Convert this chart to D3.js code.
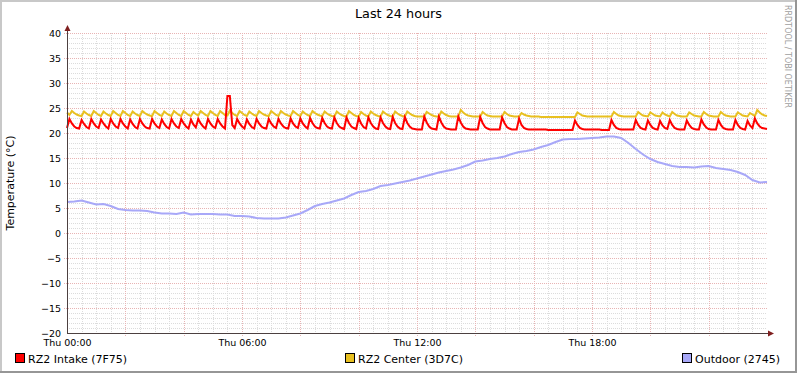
<!DOCTYPE html>
<html>
<head>
<meta charset="utf-8">
<script src="https://cdn.jsdelivr.net/npm/d3@7"></script>
<style>
  body { margin: 0; background: #fff; }
  svg { display: block; font-family: "DejaVu Sans", sans-serif; }
</style>
</head>
<body>
<div id="chart"></div>
<script>
// values
var title = "Last 24 hours";
var yLabel = "Temperature (°C)";
var watermark = "RRDTOOL / TOBI OETIKER";
var seriesNames = ["RZ2 Intake (7F75)", "RZ2 Center (3D7C)", "Outdoor (2745)"];
var seriesColors = ["#ff0000", "#e8c020", "#a8a8f8"];
var yTicks = [-20, -15, -10, -5, 0, 5, 10, 15, 20, 25, 30, 35, 40];
var xTickHours = [0, 6, 12, 18];

// 5 minute samples from Thu 00:00
var intake = [21.0,
  22.8, 21.9, 21.3, 21.0, 20.9,
  22.6, 21.8, 21.2, 20.9,
  22.8, 21.9, 21.3, 21.0,
  22.7, 21.9, 21.3, 20.9,
  22.8, 21.9, 21.3, 21.0,
  22.8, 21.9, 21.3, 20.9,
  22.7, 21.8, 21.2, 20.9,
  22.8, 21.9, 21.3, 21.0, 20.9,
  22.8, 21.9, 21.3, 21.0,
  22.7, 21.8, 21.2, 20.9,
  22.8, 21.9, 21.3, 21.0,
  22.8, 21.9, 21.3, 20.9,
  22.7, 21.7, 21.1,
  22.8, 21.9, 21.3, 20.9,
  22.8, 21.9, 21.3, 21.0,
  22.8, 21.9, 21.3, 20.9,
  27.4, 27.4, 21.6, 21.0,
  22.8, 21.9, 21.3, 20.9,
  22.7, 21.8, 21.2, 20.9,
  22.8, 21.9, 21.3, 21.0, 20.9,
  22.8, 21.9, 21.3, 21.0,
  22.8, 21.9, 21.3, 21.0, 20.9,
  22.9, 21.9, 21.3, 21.0,
  22.9, 21.9, 21.3, 20.9,
  23.0, 22.0, 21.3, 21.0, 20.9,
  23.0, 22.0, 21.3, 21.0, 20.9,
  23.1, 22.0, 21.3, 21.0, 20.8,
  23.1, 22.0, 21.3, 21.0, 20.8,
  23.0, 21.9, 21.2, 20.9,
  23.1, 22.0, 21.3, 20.9, 20.8,
  23.1, 22.0, 21.3, 20.9, 20.8,
  23.2, 22.0, 21.3, 20.9, 20.8,
  23.2, 22.0, 21.3, 20.9, 20.8, 20.7, 20.7, 20.7,
  23.3, 22.1, 21.3, 20.9, 20.8, 20.7,
  23.3, 22.1, 21.3, 20.9, 20.8, 20.7, 20.7, 20.7,
  23.3, 22.1, 21.3, 20.9, 20.8, 20.7, 20.7, 20.7, 20.7,
  23.2, 22.0, 21.2, 20.9, 20.7, 20.7, 20.7, 20.7, 20.7,
  23.1, 22.0, 21.2, 20.9, 20.7, 20.7, 20.7,
  22.9, 21.6, 21.0, 20.8, 20.7, 20.7, 20.7, 20.7, 20.7, 20.7, 20.7, 20.7,
  20.6, 20.6, 20.6, 20.6, 20.6, 20.6, 20.6, 20.6, 20.6, 20.6, 20.6,
  22.5, 21.6, 21.0, 20.8, 20.7, 20.7, 20.7, 20.7, 20.7, 20.7, 20.7, 20.6, 20.6, 20.6, 20.6,
  22.6, 21.6, 21.0, 20.8, 20.7, 20.7, 20.7, 20.7, 20.7, 20.7,
  22.6, 21.6, 21.0, 20.8, 20.7,
  22.5, 21.6, 21.0, 20.8, 20.7,
  22.4, 21.5, 21.0, 20.8,
  22.6, 21.6, 21.0, 20.8, 20.7, 20.7, 20.7,
  22.5, 21.6, 21.0, 20.8, 20.7, 20.7,
  22.7, 21.7, 21.1, 20.8, 20.7, 20.7, 20.7,
  22.6, 21.6, 21.0, 20.8, 20.7, 20.7, 20.7,
  22.6, 21.6, 21.0, 20.8, 20.7,
  22.4, 21.5, 21.0,
  22.9, 21.9, 21.3, 21.0, 20.9, 20.8];

var center = [24.1,
  23.6, 24.4, 24.0, 23.7, 23.5,
  23.4, 24.3, 23.9, 23.6,
  23.4, 24.4, 24.0, 23.6,
  23.4, 24.3, 23.9, 23.6,
  23.4, 24.4, 24.0, 23.6,
  23.4, 24.4, 24.0, 23.6,
  23.4, 24.3, 23.9, 23.6,
  23.4, 24.4, 24.0, 23.7, 23.5,
  23.4, 24.4, 24.0, 23.6,
  23.4, 24.3, 23.9, 23.6,
  23.4, 24.4, 24.0, 23.6,
  23.4, 24.4, 24.0, 23.6,
  23.4, 24.2, 23.8,
  23.5, 24.4, 24.0, 23.6,
  23.4, 24.4, 24.0, 23.6,
  23.4, 24.4, 24.0, 23.6,
  23.5, 24.5, 24.0, 23.6,
  23.4, 24.4, 24.0, 23.6,
  23.4, 24.3, 23.9, 23.6,
  23.4, 24.4, 24.0, 23.7, 23.5,
  23.4, 24.4, 24.0, 23.6,
  23.4, 24.4, 24.0, 23.7, 23.5,
  23.4, 24.4, 24.0, 23.6,
  23.4, 24.3, 23.9, 23.6,
  23.4, 24.4, 24.0, 23.7, 23.5,
  23.4, 24.3, 23.9, 23.6, 23.4,
  23.3, 24.3, 23.9, 23.6, 23.4,
  23.3, 24.4, 24.0, 23.6, 23.4,
  23.3, 24.2, 23.8, 23.5,
  23.3, 24.3, 23.9, 23.6, 23.4,
  23.3, 24.3, 23.9, 23.6, 23.4,
  23.3, 24.3, 23.9, 23.6, 23.4,
  23.3, 24.3, 23.9, 23.6, 23.4, 23.3, 23.3, 23.3,
  23.3, 24.2, 23.9, 23.6, 23.4, 23.3,
  23.3, 24.3, 23.9, 23.6, 23.4, 23.3, 23.3, 23.3,
  23.3, 24.6, 24.1, 23.7, 23.5, 23.4, 23.3, 23.3, 23.3,
  23.3, 24.2, 23.8, 23.5, 23.4, 23.3, 23.3, 23.3, 23.3,
  23.3, 24.2, 23.8, 23.5, 23.4, 23.3, 23.3,
  23.3, 24.0, 23.7, 23.5, 23.4, 23.3, 23.3, 23.3, 23.3,
  23.2, 23.2, 23.2, 23.2, 23.2, 23.2, 23.2, 23.2, 23.2, 23.2, 23.2, 23.2, 23.2, 23.2,
  23.2, 24.1, 23.8, 23.5, 23.4, 23.3, 23.3, 23.3, 23.3, 23.3, 23.3, 23.3, 23.3, 23.3, 23.3,
  23.3, 24.2, 23.8, 23.5, 23.4, 23.3, 23.3, 23.3, 23.3, 23.3,
  23.3, 24.2, 23.8, 23.5, 23.4,
  23.3, 24.1, 23.8, 23.5, 23.4,
  23.3, 24.1, 23.7, 23.5,
  23.3, 24.2, 23.8, 23.5, 23.4, 23.3, 23.3,
  23.3, 24.1, 23.8, 23.5, 23.4, 23.3,
  23.3, 24.2, 23.8, 23.5, 23.4, 23.3, 23.3,
  23.3, 24.2, 23.8, 23.5, 23.4, 23.3, 23.3,
  23.3, 24.1, 23.8, 23.5, 23.4,
  23.3, 24.0, 23.7,
  23.4, 24.6, 24.1, 23.7, 23.5, 23.4];

// 15 minute samples from Thu 00:00
var outdoor = [6.2, 6.3, 6.5, 6.1, 5.7, 5.8, 5.4, 4.8, 4.6, 4.5,
  4.5, 4.4, 4.1, 3.9, 3.9, 3.8, 4.1, 3.7, 3.8, 3.8,
  3.8, 3.7, 3.7, 3.4, 3.4, 3.3, 3.0, 2.9, 2.9, 2.9,
  3.1, 3.5, 3.9, 4.6, 5.4, 5.8, 6.1, 6.5, 6.9, 7.6,
  8.2, 8.4, 8.8, 9.4, 9.6, 9.9, 10.2, 10.5, 10.9, 11.3,
  11.7, 12.1, 12.4, 12.7, 13.1, 13.6, 14.3, 14.5, 14.8, 15.0,
  15.3, 15.8, 16.2, 16.4, 16.7, 17.2, 17.6, 18.2, 18.7, 18.8,
  18.8, 18.9, 19.0, 19.1, 19.3, 19.3, 19.0, 18.0, 16.8, 15.7,
  14.8, 14.2, 13.8, 13.4, 13.2, 13.2, 13.1, 13.3, 13.4, 13.0,
  12.8, 12.6, 12.2, 11.6, 10.6, 10.1, 10.2];

var W = 797, H = 373;
var t0 = new Date(2010, 0, 7, 0, 0), t1 = new Date(2010, 0, 8, 0, 0);

var x = d3.scaleTime().domain([t0, t1]).range([67, 767]);
var y = d3.scaleLinear().domain([-20, 40]).range([333, 33]);

var svg = d3.select("#chart").append("svg")
    .attr("width", W)
    .attr("height", H);

svg.append("rect").attr("width", W).attr("height", H).attr("fill", "#fff");

// frame shading
svg.append("rect").attr("x", 0).attr("y", 0).attr("width", W).attr("height", 2).attr("fill", "#c8c8c8");
svg.append("rect").attr("x", 0).attr("y", 0).attr("width", 2).attr("height", H).attr("fill", "#c8c8c8");
svg.append("rect").attr("x", 0).attr("y", H - 2).attr("width", W).attr("height", 2).attr("fill", "#969696");
svg.append("rect").attr("x", W - 2).attr("y", 0).attr("width", 2).attr("height", H).attr("fill", "#969696");

var grid = svg.append("g").attr("shape-rendering", "crispEdges");

// minor grid
var minorX = d3.timeMinute.every(30).range(t0, t1).filter(function(d) {
  return (d.getHours() * 60 + d.getMinutes()) % 120 != 0;
});
grid.selectAll(".vminor").data(minorX).enter().append("line")
    .attr("x1", function(d) { return Math.round(x(d)) + 0.5; })
    .attr("x2", function(d) { return Math.round(x(d)) + 0.5; })
    .attr("y1", 33).attr("y2", 333)
    .attr("stroke", "#dcdcdc").attr("stroke-dasharray", "1,1");

var minorY = d3.range(-19, 41).filter(function(d) { return d % 5 != 0; });
grid.selectAll(".hminor").data(minorY).enter().append("line")
    .attr("y1", function(d) { return Math.round(y(d)) + 0.5; })
    .attr("y2", function(d) { return Math.round(y(d)) + 0.5; })
    .attr("x1", 67).attr("x2", 767)
    .attr("stroke", "#dcdcdc").attr("stroke-dasharray", "1,1");

// major grid
var majorX = d3.timeHour.every(2).range(d3.timeHour.offset(t0, 2), t1);
grid.selectAll(".vmajor").data(majorX).enter().append("line")
    .attr("x1", function(d) { return Math.round(x(d)) + 0.5; })
    .attr("x2", function(d) { return Math.round(x(d)) + 0.5; })
    .attr("y1", 33).attr("y2", 336)
    .attr("stroke", "#e8b4b4").attr("stroke-dasharray", "1,1");

grid.selectAll(".hmajor").data(yTicks.slice(1)).enter().append("line")
    .attr("y1", function(d) { return Math.round(y(d)) + 0.5; })
    .attr("y2", function(d) { return Math.round(y(d)) + 0.5; })
    .attr("x1", 64).attr("x2", 767)
    .attr("stroke", "#e8b4b4").attr("stroke-dasharray", "1,1");

// series
function timed(values, step) {
  return values.map(function(v, i) { return {t: d3.timeMinute.offset(t0, i * step), v: v}; });
}
var line = d3.line()
    .x(function(d) { return x(d.t); })
    .y(function(d) { return y(d.v); });

svg.append("path").datum(timed(center, 5))
    .attr("d", line).attr("fill", "none")
    .attr("stroke", seriesColors[1]).attr("stroke-width", 2);
svg.append("path").datum(timed(intake, 5))
    .attr("d", line).attr("fill", "none")
    .attr("stroke", seriesColors[0]).attr("stroke-width", 2);
svg.append("path").datum(timed(outdoor, 15))
    .attr("d", line).attr("fill", "none")
    .attr("stroke", seriesColors[2]).attr("stroke-width", 2);

// axes
var axisColor = "#4c4040", arrowColor = "#7f1f1f";
svg.append("line").attr("x1", 67.5).attr("x2", 67.5).attr("y1", 333).attr("y2", 30)
    .attr("stroke", axisColor);
svg.append("line").attr("x1", 67).attr("x2", 770).attr("y1", 333.5).attr("y2", 333.5)
    .attr("stroke", axisColor);
svg.append("path").attr("d", "M64.5,31 L70.5,31 L67.5,25 Z").attr("fill", arrowColor);
svg.append("path").attr("d", "M768,330.5 L768,336.5 L774,333.5 Z").attr("fill", arrowColor);

var yAxis = svg.append("g")
    .attr("transform", "translate(67,0)")
    .call(d3.axisLeft(y).tickValues(yTicks).tickSize(0).tickPadding(6));
yAxis.select(".domain").remove();
yAxis.selectAll("text").attr("font-family", "DejaVu Sans").attr("font-size", "9.5px").attr("fill", "#000");

var xAxis = svg.append("g")
    .attr("transform", "translate(0,334)")
    .call(d3.axisBottom(x)
        .tickValues(xTickHours.map(function(h) { return d3.timeHour.offset(t0, h); }))
        .tickFormat(d3.timeFormat("%a %H:%M"))
        .tickSize(0).tickPadding(5));
xAxis.select(".domain").remove();
xAxis.selectAll("text").attr("font-family", "DejaVu Sans").attr("font-size", "9.5px").attr("fill", "#000");

// texts
svg.append("text").attr("x", 398.5).attr("y", 18)
    .attr("text-anchor", "middle").attr("font-size", "12.8px").text(title);

svg.append("text").attr("transform", "translate(14,183) rotate(-90)")
    .attr("text-anchor", "middle").attr("font-size", "11px").text(yLabel);

svg.append("text").attr("transform", "translate(785,5) rotate(90)")
    .attr("font-size", "8px").attr("fill", "#a0a0a0").text(watermark);

// legend
var legendX = [15, 345, 682];
var legend = svg.selectAll(".legend").data(seriesNames).enter().append("g")
    .attr("transform", function(d, i) { return "translate(" + legendX[i] + ",353)"; });
legend.append("rect")
    .attr("x", 0.5).attr("y", 0.5).attr("width", 9).attr("height", 9)
    .attr("fill", function(d, i) { return seriesColors[i]; })
    .attr("stroke", "#000");
legend.append("text")
    .attr("x", 13).attr("y", 9.5)
    .attr("font-size", "11px")
    .text(function(d) { return d; });
</script>
</body>
</html>
